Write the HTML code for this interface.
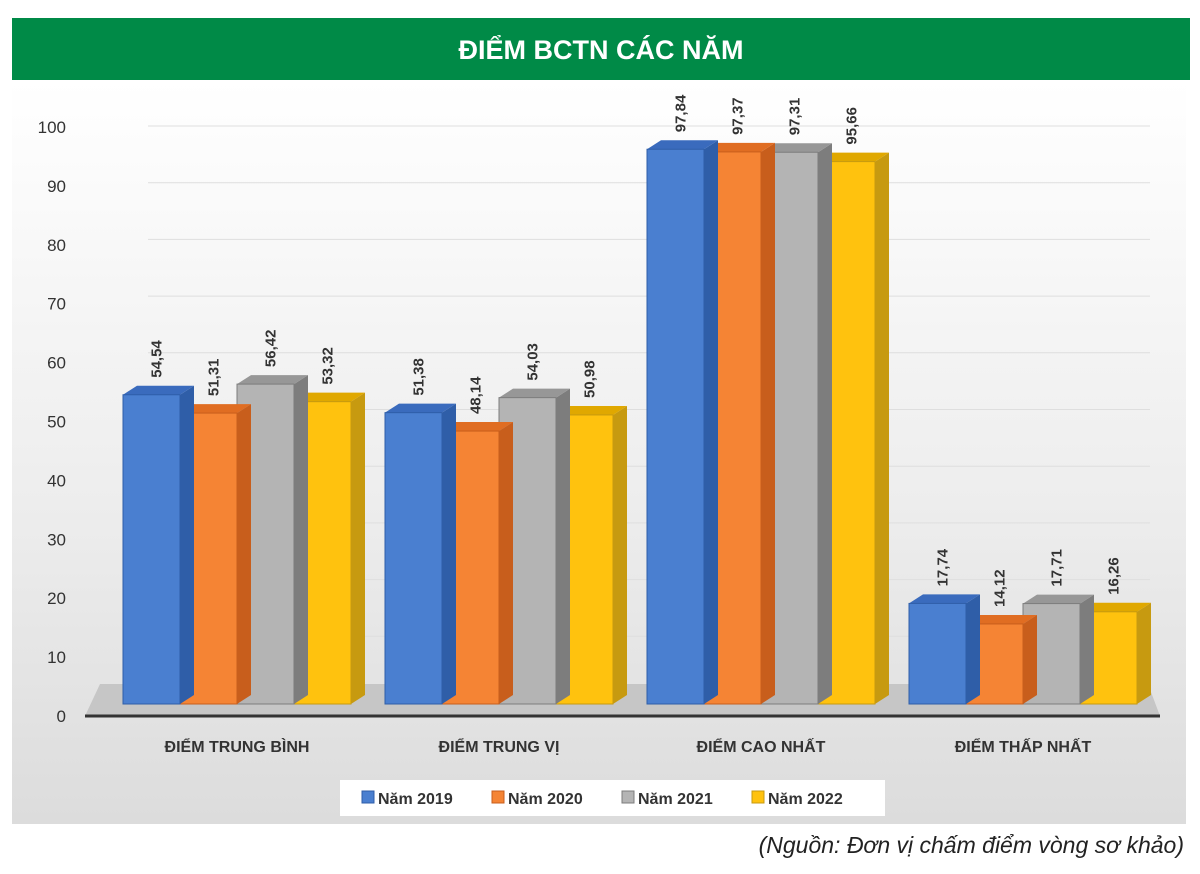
<!DOCTYPE html>
<html><head><meta charset="utf-8">
<style>
body{margin:0;width:1200px;height:874px;background:#fff;overflow:hidden;font-family:"Liberation Sans",sans-serif}
#title{position:absolute;left:12px;top:18px;width:1178px;height:62px;background:#008a47;color:#fff;font-weight:bold;font-size:27px;text-align:center;line-height:64px}
#panel{position:absolute;left:12px;top:80px;width:1174px;height:744px;background:linear-gradient(#ffffff,#ececec 60%,#dcdcdc)}
#src{position:absolute;right:16px;top:832px;font-style:italic;font-size:23px;color:#222}
svg{position:absolute;left:0;top:0}
</style></head><body>
<div id="title">ĐIỂM BCTN CÁC NĂM</div>
<div id="panel"></div>
<svg id="chart" width="1200" height="874"></svg>
<div id="src">(Nguồn: Đơn vị chấm điểm vòng sơ khảo)</div>
<script>
const categories=["ĐIỂM TRUNG BÌNH","ĐIỂM TRUNG VỊ","ĐIỂM CAO NHẤT","ĐIỂM THẤP NHẤT"];
const seriesNames=["Năm 2019","Năm 2020","Năm 2021","Năm 2022"];
const v2019=[54.54,51.38,97.84,17.74];
const v2020=[51.31,48.14,97.37,14.12];
const v2021=[56.42,54.03,97.31,17.71];
const v2022=[53.32,50.98,95.66,16.26];
const labels2019=["54,54","51,38","97,84","17,74"];
const labels2020=["51,31","48,14","97,37","14,12"];
const labels2021=["56,42","54,03","97,31","17,71"];
const labels2022=["53,32","50,98","95,66","16,26"];
const yTicks=[0,10,20,30,40,50,60,70,80,90,100];

const svg=document.getElementById('chart');const NS='http://www.w3.org/2000/svg';
function mk(t,a,p){const e=document.createElementNS(NS,t);for(const k in a)e.setAttribute(k,a[k]);(p||svg).appendChild(e);return e;}
const base=704,scale=5.67;
const y=v=>base-v*scale;
const tickY=v=>716-v*5.89;
const groupX=i=>123+i*262;
const barW=57,dx=14,dy=9;
const colors=[["#4a7fd0","#2f5ea8","#3a6bbd"],["#f58434","#c85e1c","#e06d22"],["#b4b4b4","#7d7d7d","#979797"],["#ffc20e","#c79a10","#e0a800"]];
const series=[v2019,v2020,v2021,v2022];
const lbls=[labels2019,labels2020,labels2021,labels2022];
// gridlines & ticks
yTicks.forEach(t=>{
  const l=mk('line',{x1:148,y1:y(t)-dy-2,x2:1150,y2:y(t)-dy-2,stroke:'#dedede','stroke-width':1});
  
  const tx=mk('text',{x:66,y:tickY(t)+6,'text-anchor':'end','font-size':17,fill:'#333'});tx.textContent=t;
  
});
// floor
const fl=mk('polygon',{points:`85,716 1160,716 1148,${base-20} 100,${base-20}`,fill:'#c6c6c6'});

const ax=mk('line',{x1:85,y1:716,x2:1160,y2:716,stroke:'#333','stroke-width':3});

categories.forEach((c,i)=>{
  for(let s=3;s>=0;s--){
    const x=groupX(i)+s*barW,top=y(series[s][i]),col=colors[s];
    const g=mk('g',{});
    
    
    mk('polygon',{points:`${x+barW},${top} ${x+barW+dx},${top-dy} ${x+barW+dx},${base-dy} ${x+barW},${base}`,fill:col[1]},g);
    mk('polygon',{points:`${x},${top} ${x+dx},${top-dy} ${x+barW+dx},${top-dy} ${x+barW},${top}`,fill:col[2]},g);
    mk('rect',{x:x,y:top,width:barW,height:base-top,fill:col[0],stroke:col[1],'stroke-width':1},g);
  }
  for(let s=0;s<4;s++){
    const cx=groupX(i)+s*barW+barW/2+4,top=y(series[s][i]);
    const t=mk('text',{x:0,y:0,transform:`translate(${cx+6},${top-dy-8}) rotate(-90)`,'font-size':15,'font-weight':'bold',fill:'#333'});
    t.textContent=lbls[s][i];
    
  }
  const ct=mk('text',{x:groupX(i)+2*barW,y:752,'text-anchor':'middle','font-size':16,'font-weight':'bold',fill:'#333'});
  ct.textContent=c;
});
// legend
const lg=mk('g',{});
mk('rect',{x:340,y:780,width:545,height:36,fill:'#fff'},lg);
seriesNames.forEach((n,s)=>{
  const e=mk('g',{},lg);
  const lx=362+s*130;
  mk('rect',{x:lx,y:791,width:12,height:12,fill:colors[s][0],stroke:colors[s][1]},e);
  const t=mk('text',{x:lx+16,y:804,'font-size':16,'font-weight':'bold',fill:'#333'},e);t.textContent=n;
});
</script>
</body></html>
